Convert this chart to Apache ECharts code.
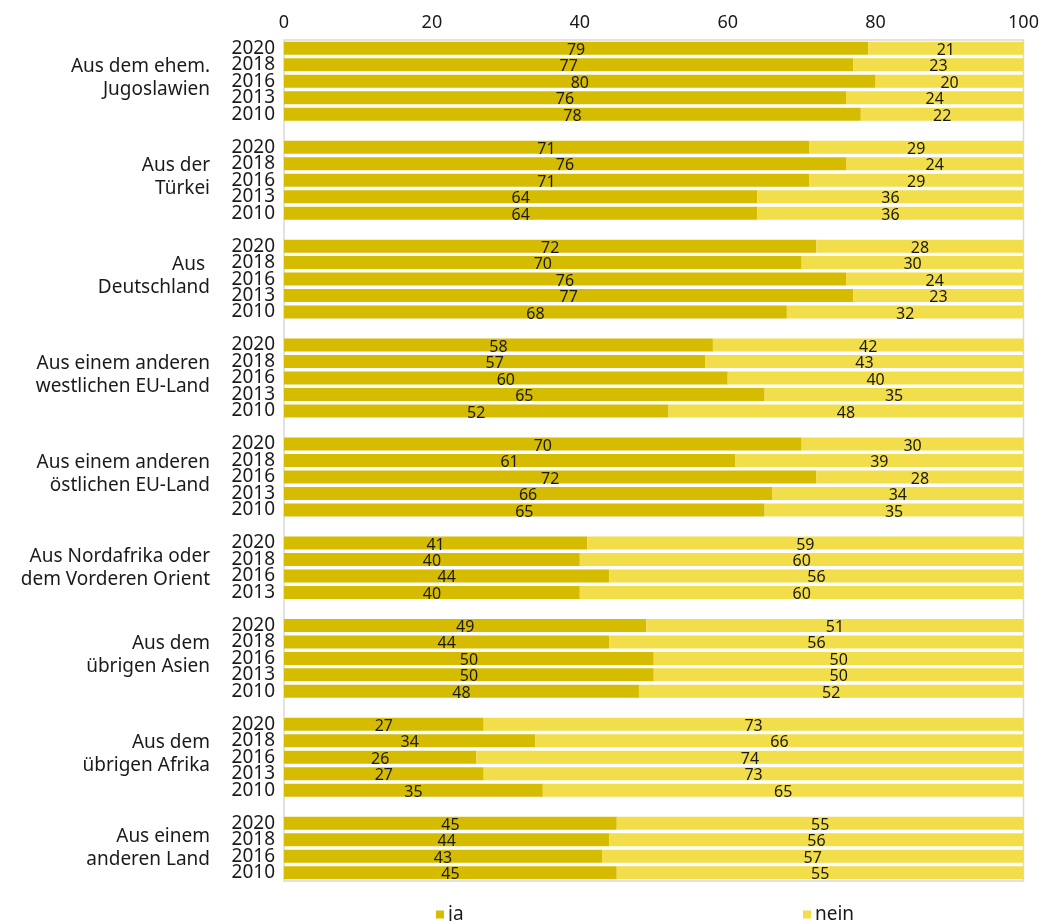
<!DOCTYPE html>
<html>
<head>
<meta charset="utf-8">
<script src="https://cdn.jsdelivr.net/npm/echarts@6/dist/echarts.min.js"></script>
<style>html,body{margin:0;padding:0;background:#fff;}#c{width:1047px;height:921px;}</style>
</head>
<body>
<div id="c"></div>
<script>
const groupNames = [
  "Aus dem ehem.\nJugoslawien",
  "Aus der\nTürkei",
  "Aus \nDeutschland",
  "Aus einem anderen\nwestlichen EU-Land",
  "Aus einem anderen\nöstlichen EU-Land",
  "Aus Nordafrika oder\ndem Vorderen Orient",
  "Aus dem\nübrigen Asien",
  "Aus dem\nübrigen Afrika",
  "Aus einem\nanderen Land"
];
const groupYears = [
  ["2020","2018","2016","2013","2010"],
  ["2020","2018","2016","2013","2010"],
  ["2020","2018","2016","2013","2010"],
  ["2020","2018","2016","2013","2010"],
  ["2020","2018","2016","2013","2010"],
  ["2020","2018","2016","2013"],
  ["2020","2018","2016","2013","2010"],
  ["2020","2018","2016","2013","2010"],
  ["2020","2018","2016","2010"]
];
const jaValues = [
  [79,77,80,76,78],
  [71,76,71,64,64],
  [72,70,76,77,68],
  [58,57,60,65,52],
  [70,61,72,66,65],
  [41,40,44,40],
  [49,44,50,50,48],
  [27,34,26,27,35],
  [45,44,43,45]
];
const neinValues = [
  [21,23,20,24,22],
  [29,24,29,36,36],
  [28,30,24,23,32],
  [42,43,40,35,48],
  [30,39,28,34,35],
  [59,60,56,60],
  [51,56,50,50,52],
  [73,66,74,73,65],
  [55,56,57,55]
];
const xTicks = [0,20,40,60,80,100];

// build slots
const keys = [], yearLabel = {}, groupLabel = {}, ja = [], nein = [];
groupNames.forEach((g, gi) => {
  const yrs = groupYears[gi];
  yrs.forEach((y, yi) => {
    const k = 'g' + gi + '_' + y;
    keys.push(k);
    yearLabel[k] = y;
    ja.push(jaValues[gi][yi]);
    nein.push(neinValues[gi][yi]);
    if (yi === 2) {
      const sp = yrs.length === 4 ? 's8' : 's3';
      groupLabel[k] = g.split('\n').map(t => '{a|' + t + '}').join('\n') + '\n{' + sp + '| }';
    }
  });
  if (gi < groupNames.length - 1) {
    const k = 'gap' + gi;
    keys.push(k);
    yearLabel[k] = '';
    ja.push('-');
    nein.push('-');
  }
});

const FONT = '"Noto Sans", sans-serif';
const TXT = '#1a1a1a';
const chart = echarts.init(document.getElementById('c'));
chart.setOption({
  animation: false,
  textStyle: { fontFamily: FONT, color: TXT },
  grid: { left: 284, right: 23.5, top: 40, bottom: 40, show: true, borderColor: '#d9d9d9', borderWidth: 1.5 },
  xAxis: {
    type: 'value', position: 'top', min: 0, max: 100, interval: 20,
    axisLabel: { fontSize: 18, color: TXT, fontFamily: FONT, margin: 8, formatter: v => xTicks.includes(v) ? String(v) : '' },
    axisLine: { show: false }, axisTick: { show: false }, splitLine: { show: false }
  },
  yAxis: [
    {
      type: 'category', data: keys, inverse: true,
      axisLabel: { interval: 0, fontSize: 19, color: TXT, fontFamily: FONT, margin: 9, lineHeight: 19, formatter: v => yearLabel[v] },
      axisLine: { show: false }, axisTick: { show: false }
    },
    {
      type: 'category', data: keys, inverse: true, position: 'left',
      axisLabel: {
        interval: 0, margin: 74, color: TXT, fontFamily: FONT,
        formatter: v => groupLabel[v] || '',
        rich: {
          a: { fontSize: 19, lineHeight: 23, color: TXT, fontFamily: FONT, align: 'right' },
          s3: { fontSize: 2, lineHeight: 6 },
          s8: { fontSize: 2, lineHeight: 16 }
        }
      },
      axisLine: { show: false }, axisTick: { show: false }
    }
  ],
  legend: [
    { data: ['ja'], left: 431, top: 900, itemWidth: 8, itemHeight: 8, icon: 'rect', itemGap: 5,
      textStyle: { fontSize: 19, color: TXT, fontFamily: FONT, padding: [0,0,0,-1] } },
    { data: ['nein'], left: 798, top: 900, itemWidth: 8, itemHeight: 8, icon: 'rect', itemGap: 5,
      textStyle: { fontSize: 19, color: TXT, fontFamily: FONT, padding: [0,0,0,-1] } }
  ],
  series: [
    {
      name: 'ja', type: 'bar', stack: 's', data: ja, barWidth: 13,
      itemStyle: { color: '#D5BC00' },
      label: { show: true, position: 'inside', color: TXT, fontSize: 16, fontFamily: FONT, offset: [0, 2] }
    },
    {
      name: 'nein', type: 'bar', stack: 's', data: nein, barWidth: 13,
      itemStyle: { color: '#F2DD4A' },
      label: { show: true, position: 'inside', color: TXT, fontSize: 16, fontFamily: FONT, offset: [0, 2] }
    }
  ]
});
</script>
</body>
</html>
